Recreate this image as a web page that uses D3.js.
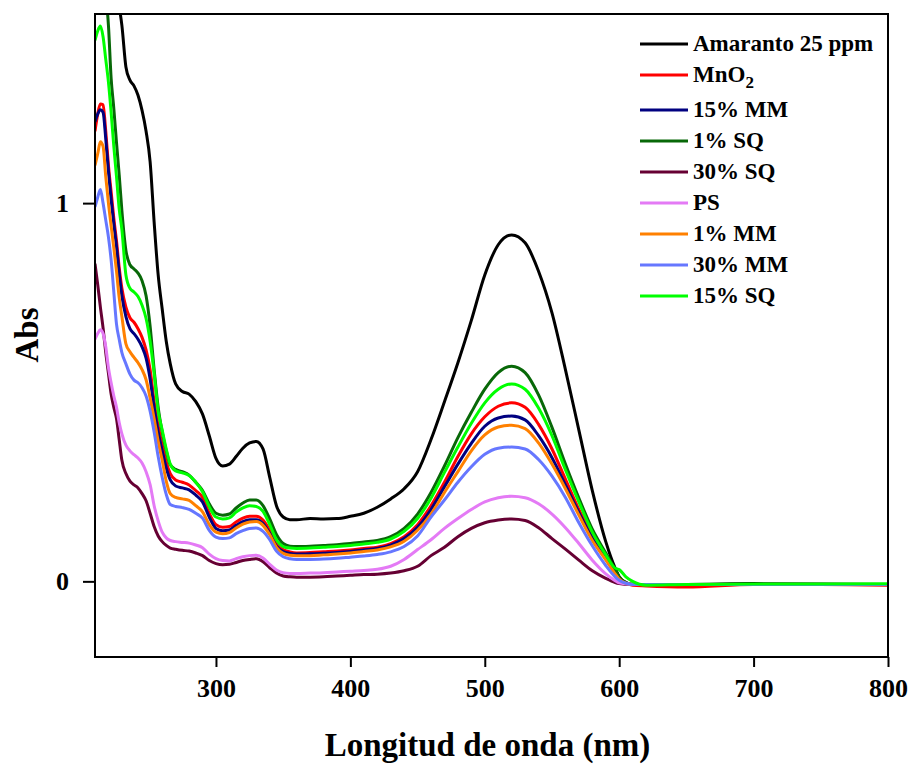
<!DOCTYPE html>
<html>
<head>
    <meta charset="utf-8">
    <title>Abs vs longitud de onda</title>
    <script src="https://d3js.org/d3.v7.min.js"></script>
    <style>
        body { margin: 0; background: #fff; }
        text { font-family: "Liberation Serif", "Times New Roman", serif; font-weight: bold; fill: #000; }
        .tick line { stroke: #000; stroke-width: 2px; }
        .tick text { font-size: 26px; }
        .curve { fill: none; stroke-width: 3px; stroke-linejoin: round; }
    </style>
</head>
<body>
    <div id="chart"></div>

    <script>
        // longitudes de onda (nm)
        const wavelengths = [210, 212, 214, 216, 218, 220, 222, 224, 226, 228,
            230, 233, 236, 239, 242, 245, 248, 251, 254, 257,
            260, 263, 266, 270, 275, 280, 285, 290, 295, 300,
            305, 310, 315, 320, 325, 330, 335, 340, 345, 350,
            355, 360, 370, 380, 390, 400, 410, 420, 430, 440,
            450, 460, 470, 480, 490, 500, 510, 520, 530, 540,
            550, 560, 570, 580, 590, 597, 600, 605, 610, 620,
            650, 700, 750, 800];

        const amaranto = [2.0, 2.05, 2.06, 2.0, 1.9, 1.8, 1.7, 1.62, 1.56, 1.52,
            1.47, 1.36, 1.325, 1.31, 1.285, 1.245, 1.19, 1.11, 0.95, 0.81,
            0.72, 0.635, 0.575, 0.522, 0.502, 0.495, 0.475, 0.442, 0.385, 0.325,
            0.305, 0.31, 0.33, 0.352, 0.366, 0.37, 0.35, 0.275, 0.2, 0.17,
            0.163, 0.163, 0.166, 0.165, 0.166, 0.172, 0.18, 0.196, 0.218, 0.245,
            0.29, 0.375, 0.475, 0.578, 0.69, 0.81, 0.89, 0.916, 0.895, 0.82,
            0.71, 0.56, 0.40, 0.24, 0.105, 0.035, 0.012, -0.003, -0.008, -0.008,
            -0.008, -0.006, -0.007, -0.008];

        const mno2 = [1.19, 1.235, 1.262, 1.26, 1.19, 1.10, 1.03, 0.96, 0.90, 0.83,
            0.775, 0.725, 0.697, 0.685, 0.668, 0.645, 0.612, 0.56, 0.475, 0.41,
            0.36, 0.315, 0.285, 0.268, 0.262, 0.255, 0.24, 0.222, 0.18, 0.15,
            0.143, 0.145, 0.157, 0.167, 0.172, 0.172, 0.162, 0.135, 0.1, 0.084,
            0.078, 0.075, 0.076, 0.078, 0.08, 0.083, 0.087, 0.09, 0.1, 0.118,
            0.15, 0.2, 0.262, 0.33, 0.39, 0.435, 0.463, 0.472, 0.46, 0.415,
            0.35, 0.27, 0.19, 0.12, 0.063, 0.025, 0.01, -0.005, -0.01, -0.012,
            -0.015, -0.008, -0.008, -0.01];

        const mm15 = [1.215, 1.235, 1.247, 1.24, 1.17, 1.085, 1.01, 0.945, 0.885, 0.815,
            0.755, 0.70, 0.668, 0.655, 0.64, 0.62, 0.59, 0.535, 0.46, 0.395,
            0.345, 0.30, 0.268, 0.252, 0.247, 0.242, 0.228, 0.21, 0.17, 0.14,
            0.134, 0.136, 0.148, 0.158, 0.163, 0.163, 0.153, 0.127, 0.093, 0.079,
            0.074, 0.072, 0.073, 0.074, 0.076, 0.079, 0.083, 0.087, 0.096, 0.113,
            0.143, 0.19, 0.25, 0.31, 0.365, 0.41, 0.432, 0.437, 0.427, 0.385,
            0.327, 0.255, 0.182, 0.114, 0.06, 0.022, 0.008, -0.004, -0.008, -0.008,
            -0.008, -0.008, -0.008, -0.008];

        const sq1 = [1.52, 1.57, 1.6, 1.59, 1.55, 1.47, 1.33, 1.25, 1.16, 1.075,
            0.98, 0.875, 0.837, 0.826, 0.815, 0.795, 0.755, 0.675, 0.56, 0.46,
            0.395, 0.345, 0.308, 0.296, 0.29, 0.281, 0.262, 0.24, 0.205, 0.18,
            0.175, 0.178, 0.194, 0.207, 0.215, 0.215, 0.2, 0.165, 0.124, 0.1,
            0.093, 0.092, 0.093, 0.095, 0.097, 0.1, 0.104, 0.108, 0.118, 0.14,
            0.178, 0.235, 0.305, 0.38, 0.447, 0.508, 0.552, 0.569, 0.552, 0.493,
            0.407, 0.31, 0.22, 0.138, 0.075, 0.032, 0.012, -0.004, -0.008, -0.008,
            -0.008, -0.008, -0.008, -0.008];

        const sq30 = [0.84, 0.785, 0.725, 0.67, 0.605, 0.55, 0.495, 0.46, 0.43, 0.375,
            0.32, 0.285, 0.265, 0.255, 0.247, 0.232, 0.213, 0.18, 0.145, 0.12,
            0.105, 0.095, 0.088, 0.085, 0.082, 0.08, 0.075, 0.068, 0.055, 0.047,
            0.044, 0.045, 0.05, 0.055, 0.058, 0.06, 0.052, 0.036, 0.022, 0.014,
            0.012, 0.011, 0.011, 0.012, 0.014, 0.016, 0.018, 0.019, 0.022, 0.028,
            0.04, 0.068, 0.09, 0.118, 0.14, 0.155, 0.162, 0.165, 0.161, 0.142,
            0.113, 0.085, 0.056, 0.028, 0.008, -0.003, -0.006, -0.008, -0.008, -0.008,
            -0.008, -0.008, -0.008, -0.008];

        const ps = [0.64, 0.655, 0.665, 0.655, 0.62, 0.565, 0.525, 0.49, 0.46, 0.42,
            0.39, 0.36, 0.345, 0.335, 0.326, 0.313, 0.29, 0.256, 0.2, 0.16,
            0.13, 0.115, 0.108, 0.105, 0.103, 0.101, 0.096, 0.089, 0.072, 0.06,
            0.055, 0.054, 0.06, 0.065, 0.068, 0.069, 0.062, 0.045, 0.03, 0.023,
            0.021, 0.021, 0.022, 0.023, 0.025, 0.027, 0.029, 0.032, 0.04, 0.058,
            0.084, 0.11, 0.14, 0.166, 0.19, 0.21, 0.221, 0.225, 0.221, 0.205,
            0.178, 0.142, 0.1, 0.056, 0.02, 0.002, -0.004, -0.007, -0.008, -0.008,
            -0.008, -0.008, -0.008, -0.008];

        const mm1 = [1.10, 1.13, 1.162, 1.15, 1.07, 1.0, 0.94, 0.882, 0.82, 0.75,
            0.70, 0.628, 0.607, 0.592, 0.578, 0.56, 0.533, 0.485, 0.43, 0.37,
            0.32, 0.265, 0.232, 0.222, 0.218, 0.214, 0.2, 0.184, 0.15, 0.13,
            0.126, 0.129, 0.141, 0.151, 0.157, 0.158, 0.148, 0.123, 0.09, 0.074,
            0.069, 0.068, 0.068, 0.07, 0.072, 0.075, 0.079, 0.083, 0.091, 0.106,
            0.135, 0.178, 0.235, 0.29, 0.345, 0.387, 0.408, 0.413, 0.404, 0.366,
            0.31, 0.245, 0.175, 0.108, 0.057, 0.02, 0.006, -0.005, -0.008, -0.008,
            -0.008, -0.008, -0.008, -0.008];

        const mm30 = [0.99, 1.015, 1.036, 1.0, 0.955, 0.91, 0.85, 0.765, 0.68, 0.64,
            0.605, 0.575, 0.548, 0.532, 0.525, 0.512, 0.49, 0.45, 0.395, 0.33,
            0.275, 0.23, 0.203, 0.198, 0.195, 0.19, 0.18, 0.167, 0.135, 0.117,
            0.113, 0.115, 0.126, 0.134, 0.14, 0.141, 0.132, 0.11, 0.08, 0.065,
            0.06, 0.058, 0.058, 0.059, 0.061, 0.064, 0.067, 0.071, 0.078, 0.092,
            0.12, 0.17, 0.215, 0.262, 0.303, 0.336, 0.352, 0.355, 0.35, 0.322,
            0.278, 0.222, 0.155, 0.094, 0.042, 0.012, 0.003, -0.005, -0.008, -0.008,
            -0.008, -0.008, -0.008, -0.008];

        const sq15 = [1.43, 1.455, 1.468, 1.44, 1.38, 1.32, 1.24, 1.15, 1.07, 0.985,
            0.93, 0.81, 0.775, 0.765, 0.753, 0.73, 0.695, 0.635, 0.55, 0.45,
            0.40, 0.35, 0.31, 0.292, 0.287, 0.28, 0.262, 0.237, 0.197, 0.17,
            0.165, 0.168, 0.183, 0.194, 0.2, 0.198, 0.185, 0.15, 0.11, 0.092,
            0.088, 0.087, 0.088, 0.09, 0.092, 0.095, 0.099, 0.103, 0.112, 0.132,
            0.166, 0.22, 0.288, 0.355, 0.418, 0.472, 0.508, 0.522, 0.508, 0.458,
            0.385, 0.295, 0.21, 0.13, 0.07, 0.035, 0.031, 0.012, 0.0, -0.01,
            -0.008, -0.007, -0.007, -0.006];

        const seriesNames = ["Amaranto 25 ppm", "MnO2", "15% MM", "1% SQ", "30% SQ",
            "PS", "1% MM", "30% MM", "15% SQ"];
        const seriesValues = [amaranto, mno2, mm15, sq1, sq30, ps, mm1, mm30, sq15];
        const colors = ["#000000", "#ff0000", "#000080", "#086808", "#660033",
            "#e47af5", "#ff8000", "#6677ff", "#00ff00"];

        const xTicks = [300, 400, 500, 600, 700, 800];
        const yTicks = [0, 1];

        const margin = {top: 14, right: 26, bottom: 110, left: 95};
        const width = 914 - margin.left - margin.right;
        const height = 767 - margin.top - margin.bottom;

        const svg = d3.select("#chart")
            .append("svg")
            .attr("width", width + margin.left + margin.right)
            .attr("height", height + margin.top + margin.bottom);

        const g = svg.append("g")
            .attr("transform", `translate(${margin.left},${margin.top})`);

        const x = d3.scaleLinear().domain([210, 800]).range([0, width]);
        const y = d3.scaleLinear().domain([-0.2, 1.5]).range([height, 0]);

        g.append("clipPath")
            .attr("id", "plot-clip")
            .append("rect")
            .attr("width", width)
            .attr("height", height);

        // ejes
        const xAxis = g.append("g")
            .attr("transform", `translate(0,${height})`)
            .call(d3.axisBottom(x).tickValues(xTicks).tickSize(10).tickSizeOuter(0).tickPadding(12));
        xAxis.select(".domain").remove();

        const yAxis = g.append("g")
            .call(d3.axisLeft(y).tickValues(yTicks).tickFormat(d3.format("d"))
                .tickSize(12).tickSizeOuter(0).tickPadding(14));
        yAxis.select(".domain").remove();

        // curvas
        const line = d3.line()
            .x(d => x(d[0]))
            .y(d => y(d[1]))
            .curve(d3.curveMonotoneX);

        const curves = g.append("g").attr("clip-path", "url(#plot-clip)");
        seriesValues.forEach((vals, i) => {
            curves.append("path")
                .attr("class", "curve")
                .attr("stroke", colors[i])
                .attr("d", line(wavelengths.map((w, j) => [w, vals[j]])));
        });

        // marco
        g.append("rect")
            .attr("width", width)
            .attr("height", height)
            .attr("fill", "none")
            .attr("stroke", "#000")
            .attr("stroke-width", 2);

        // títulos de ejes
        g.append("text")
            .attr("x", width / 2 - 4)
            .attr("y", height + 99)
            .attr("text-anchor", "middle")
            .style("font-size", "33px")
            .text("Longitud de onda (nm)");

        g.append("text")
            .attr("transform", "rotate(-90)")
            .attr("x", -321)
            .attr("y", -57)
            .attr("text-anchor", "middle")
            .style("font-size", "33px")
            .text("Abs");

        // leyenda
        const legend = svg.append("g").attr("transform", "translate(640, 44)");
        seriesNames.forEach((name, i) => {
            const row = legend.append("g")
                .attr("transform", `translate(0, ${i * 31 + (i >= 2 ? 4 : 0)})`);
            row.append("line")
                .attr("x1", 0).attr("x2", 48)
                .attr("stroke", colors[i])
                .attr("stroke-width", 3);
            const t = row.append("text")
                .attr("x", 53)
                .attr("y", 7)
                .style("font-size", "23px");
            if (name === "MnO2") {
                t.append("tspan").text("MnO");
                t.append("tspan").attr("dy", 6).style("font-size", "17px").text("2");
            } else {
                t.text(name);
            }
        });
    </script>
</body>
</html>
